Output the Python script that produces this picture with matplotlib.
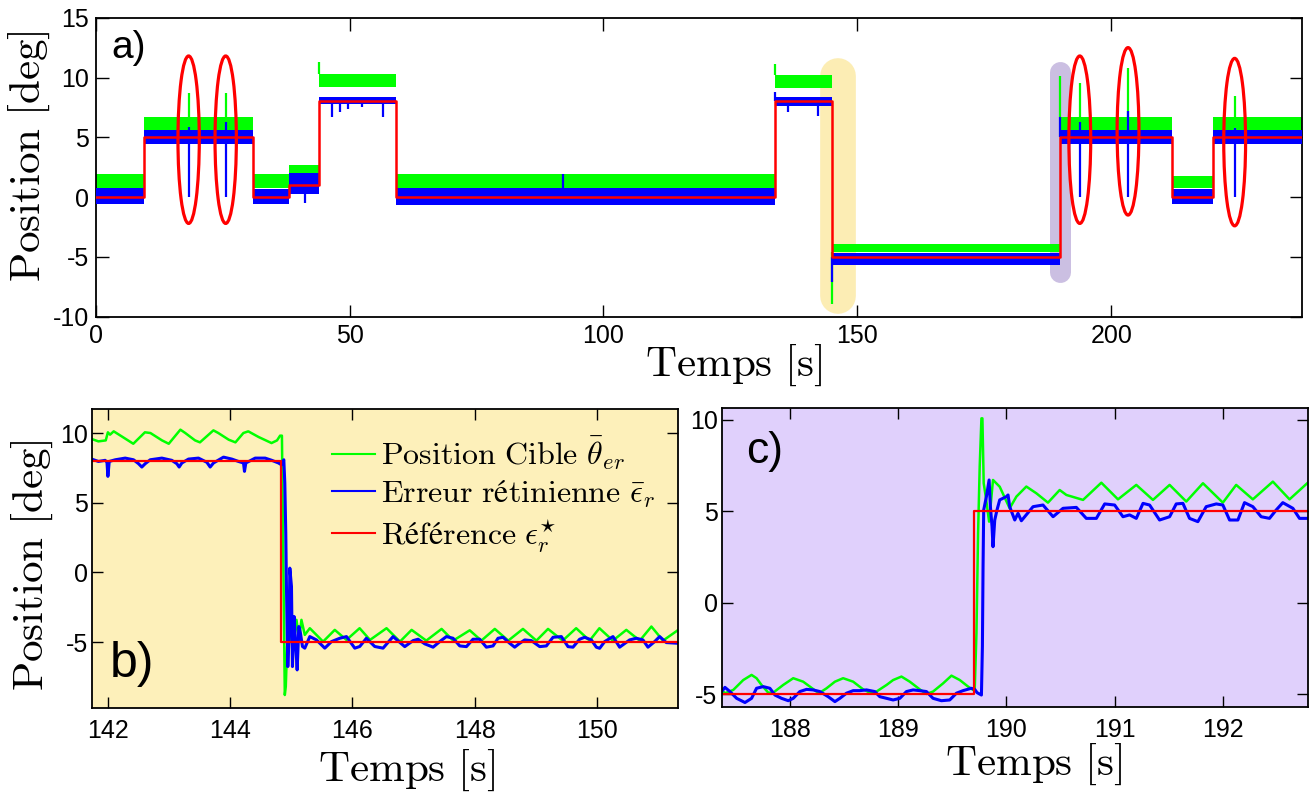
import numpy as np
import matplotlib.pyplot as plt
from matplotlib.patches import Ellipse
from matplotlib.lines import Line2D

# ---------------- a) full recording (levels read per step) ----------------
seg_t = [0, 9.5, 31.0, 38.1, 44.0, 59.2, 133.7, 145.0, 190.0, 211.9, 220.0, 237.5]
ref_lvl = [0, 5, 0, 1, 8, 0, 8, -5, 5, 0, 5]
green_lo = [0.8, 5.6, 0.8, 1.8, 9.2, 0.8, 9.1, -4.6, 5.6, 0.8, 5.6]
green_hi = [1.9, 6.7, 1.9, 2.7, 10.3, 1.9, 10.2, -3.9, 6.7, 1.8, 6.7]
blue_lo = [-0.6, 4.4, -0.6, 0.3, 7.8, -0.7, 7.6, -5.7, 4.4, -0.6, 4.4]
blue_hi = [0.8, 5.6, 0.7, 2.0, 8.4, 0.8, 8.4, -4.7, 5.6, 0.7, 5.6]

# spikes
g_spk_t = [18.3, 25.6, 44.0, 133.7, 145.0, 190.0, 193.8, 203.3, 224.3]
g_spk_from = [6.7, 6.7, 10.3, 10.2, -4.6, 6.7, 6.7, 6.7, 6.7]
g_spk_to = [8.7, 8.7, 11.3, 11.1, -8.9, 10.1, 9.5, 10.8, 8.45]
b_spk_t = [18.3, 25.6, 193.8, 203.3, 224.3, 133.7, 145.0, 190.0, 41.3,
           46.5, 48.1, 49.7, 52.4, 56.6, 136.3, 142.2, 92.0]
b_spk_lo = [0.0, 0.0, 0.0, 0.0, 0.0, 8.0, -7.1, 5.0, -0.5,
            6.7, 7.1, 7.4, 7.5, 6.7, 7.1, 6.8, 0.5]
b_spk_hi = [5.9, 6.3, 6.3, 7.2, 5.8, 8.8, -5.0, 6.7, 0.5,
            8.0, 8.0, 8.0, 8.0, 8.0, 8.0, 8.0, 1.9]

# red ellipses around the blinks
ell_t = [18.3, 25.6, 193.8, 203.3, 224.3]
ell_y = [4.8, 4.8, 4.8, 5.5, 4.6]
ell_h = [14.0, 14.0, 14.0, 14.0, 14.0]
ell_w = [4.2, 4.2, 4.3, 4.3, 4.3]

# highlighted windows (zoomed in b and c)
hl_t = [146.1, 189.9]
hl_y0 = [-8.3, -6.3]
hl_y1 = [10.1, 10.5]

# ---------------- b) zoom around 145 s ----------------
b_ref_t = [141.75, 144.84, 151.35]
b_ref_y = [8, -5, -5]
b_green_t = [141.74, 141.85, 141.97, 142.005, 142.04, 142.10, 142.23, 142.42, 142.61, 142.70,
             142.89, 143.00, 143.19, 143.27, 143.43, 143.51, 143.73, 143.81, 143.98, 144.09,
             144.22, 144.30, 144.47, 144.68, 144.77, 144.82, 144.85, 144.897, 144.913, 144.935,
             144.979, 145.033, 145.088, 145.131, 145.169, 145.224, 145.306, 145.523, 145.714, 145.905,
             146.12, 146.29, 146.56, 146.78, 146.97, 147.21, 147.46, 147.65, 147.92, 148.11,
             148.33, 148.55, 148.79, 149.01, 149.20, 149.44, 149.66, 149.88, 150.04, 150.26,
             150.48, 150.70, 150.89, 151.08, 151.32]
b_green_y = [9.57, 9.40, 9.47, 10.05, 9.88, 10.12, 9.76, 9.23, 10.05, 10.00,
             9.47, 9.23, 10.24, 10.00, 9.47, 9.33, 10.19, 10.00, 9.52, 9.33,
             10.00, 10.12, 9.71, 9.28, 9.47, 9.81, 9.81, -8.79, -8.19, -5.31,
             -4.48, -5.31, -3.40, -4.84, -3.40, -4.48, -4.00, -4.96, -4.12, -4.84,
             -4.00, -4.84, -4.00, -4.96, -4.12, -4.89, -4.05, -4.89, -4.15, -4.89,
             -4.05, -4.89, -4.05, -4.89, -4.05, -4.89, -4.00, -4.89, -4.00, -4.89,
             -4.12, -4.89, -3.88, -4.89, -4.15]
b_blue_t = [141.74, 141.85, 141.96, 141.99, 142.005, 142.027, 142.125, 142.288, 142.424, 142.506,
            142.56, 142.615, 142.697, 142.887, 143.05, 143.132, 143.17, 143.214, 143.323, 143.486,
            143.623, 143.677, 143.731, 143.895, 144.031, 144.14, 144.222, 144.238, 144.26, 144.413,
            144.576, 144.685, 144.794, 144.842, 144.881, 144.897, 144.913, 144.924, 144.946, 144.968,
            144.979, 145.006, 145.022, 145.049, 145.077, 145.099, 145.126, 145.153, 145.186, 145.224,
            145.306, 145.415, 145.551, 145.66, 145.796, 145.905, 146.041, 146.122, 146.231, 146.367,
            146.503, 146.667, 146.858, 146.994, 147.076, 147.185, 147.321, 147.43, 147.539, 147.648,
            147.757, 147.866, 147.974, 148.083, 148.192, 148.301, 148.383, 148.465, 148.574, 148.655,
            148.737, 148.819, 148.928, 149.064, 149.173, 149.282, 149.418, 149.527, 149.608, 149.717,
            149.799, 149.908, 149.99, 150.044, 150.126, 150.262, 150.371, 150.534, 150.643, 150.752,
            150.834, 150.943, 151.025, 151.134, 151.324]
b_blue_y = [8.13, 7.96, 8.04, 7.90, 6.89, 7.96, 8.08, 8.20, 8.08, 7.80,
            7.56, 7.80, 8.08, 8.20, 8.04, 7.80, 7.56, 7.85, 8.13, 8.20,
            7.90, 7.56, 7.85, 8.27, 8.13, 7.96, 7.85, 7.25, 7.85, 8.20,
            8.20, 8.04, 7.85, 7.72, 8.08, 6.41, 2.82, -1.0, -6.75, -4.36,
            0.31, -1.0, -6.75, -3.16, -5.31, -6.99, -3.88, -4.36, -5.31, -5.43,
            -4.60, -4.84, -5.43, -4.96, -4.72, -4.60, -5.43, -5.31, -4.72, -5.31,
            -5.43, -4.60, -5.32, -4.89, -4.79, -5.12, -5.36, -4.96, -4.60, -4.72,
            -5.27, -5.32, -4.79, -4.79, -5.36, -5.27, -4.72, -4.65, -5.08, -5.36,
            -5.08, -4.84, -4.89, -5.32, -5.27, -4.65, -4.60, -5.32, -5.36, -4.79,
            -4.65, -4.84, -5.36, -5.44, -4.96, -4.60, -5.36, -4.84, -4.72, -4.84,
            -5.36, -4.96, -4.60, -5.03, -5.08]

# ---------------- c) zoom around 190 s ----------------
c_ref_t = [187.37, 189.70, 192.80]
c_ref_y = [-5, 5, 5]
c_green_t = [187.369, 187.40, 187.477, 187.569, 187.646, 187.692, 187.738, 187.80, 187.846, 187.938,
             188.031, 188.123, 188.185, 188.246, 188.277, 188.339, 188.416, 188.492, 188.585, 188.677,
             188.739, 188.80, 188.893, 188.954, 189.031, 189.108, 189.20, 189.262, 189.323, 189.416,
             189.493, 189.57, 189.647, 189.693, 189.708, 189.724, 189.739, 189.754, 189.77, 189.779,
             189.791, 189.81, 189.841, 189.877, 189.939, 190.031, 190.093, 190.185, 190.278, 190.385,
             190.493, 190.555, 190.709, 190.878, 191.032, 191.201, 191.355, 191.509, 191.663, 191.817,
             192.001, 192.124, 192.278, 192.463, 192.617, 192.786]
c_green_y = [-4.76, -4.94, -4.76, -4.22, -3.94, -4.12, -4.49, -4.91, -4.91, -4.49,
             -4.12, -4.31, -4.58, -4.85, -4.91, -4.67, -4.31, -4.12, -4.31, -4.73,
             -4.91, -4.85, -4.49, -4.22, -4.03, -4.31, -4.73, -4.98, -4.85, -4.40,
             -3.98, -4.22, -4.58, -4.76, -4.76, -1.66, 3.80, 7.45, 10.09, 10.09,
             6.54, 5.80, 4.44, 6.72, 6.35, 5.17, 5.81, 6.36, 5.99, 5.48,
             6.17, 5.90, 5.63, 6.57, 5.66, 6.45, 5.63, 6.45, 5.54, 6.54,
             5.48, 6.45, 5.66, 6.63, 5.66, 6.57]
c_blue_t = [187.369, 187.40, 187.446, 187.508, 187.585, 187.646, 187.692, 187.754, 187.815, 187.862,
            187.923, 187.985, 188.031, 188.092, 188.154, 188.215, 188.277, 188.354, 188.416, 188.462,
            188.523, 188.585, 188.646, 188.708, 188.785, 188.831, 188.893, 188.954, 189.016, 189.077,
            189.139, 189.20, 189.262, 189.323, 189.40, 189.477, 189.539, 189.60, 189.677, 189.708,
            189.73, 189.77, 189.779, 189.785, 189.791, 189.816, 189.841, 189.853, 189.868, 189.877,
            189.893, 189.914, 189.939, 190.001, 190.016, 190.031, 190.078, 190.108, 190.139, 190.247,
            190.339, 190.432, 190.524, 190.647, 190.739, 190.832, 190.909, 191.001, 191.078, 191.139,
            191.201, 191.263, 191.324, 191.416, 191.509, 191.57, 191.632, 191.693, 191.77, 191.847,
            191.94, 192.001, 192.063, 192.14, 192.201, 192.278, 192.355, 192.432, 192.494, 192.555,
            192.648, 192.709, 192.786]
c_blue_y = [-4.85, -4.62, -4.85, -5.22, -5.45, -5.22, -4.67, -4.58, -4.67, -5.04,
            -5.22, -5.35, -5.22, -4.85, -4.73, -4.76, -4.85, -5.13, -5.40, -5.22,
            -4.94, -4.80, -4.80, -4.76, -4.85, -5.13, -5.22, -5.31, -5.22, -4.85,
            -4.76, -4.80, -4.85, -5.22, -5.35, -5.31, -4.94, -4.80, -4.67, -4.73,
            -4.91, -5.04, -2.39, 1.98, 5.08, 5.81, 6.72, 5.26, 4.17, 3.07,
            4.53, 5.08, 5.63, 5.81, 5.90, 5.26, 4.53, 4.90, 4.49, 5.26,
            5.35, 4.71, 5.17, 5.22, 4.62, 4.62, 5.41, 5.35, 4.71, 4.81,
            4.62, 5.44, 5.35, 4.53, 4.71, 5.41, 5.44, 4.62, 4.44, 5.26,
            5.41, 5.35, 4.53, 4.53, 5.48, 5.26, 4.71, 4.62, 5.08, 5.48,
            5.17, 4.62, 4.62]

GREEN = '#00ff00'
BLUE = '#0000ff'
RED = '#ff0000'

plt.rcParams['font.family'] = ['Liberation Sans', 'DejaVu Sans']
plt.rcParams['mathtext.fontset'] = 'cm'
plt.rcParams['axes.unicode_minus'] = False


def style_axes(ax, ticklen, pad):
    ax.tick_params(direction='in', top=True, right=True, length=ticklen,
                   width=1.0, labelsize=18, pad=pad)
    for s in ax.spines.values():
        s.set_linewidth(1.3)


fig = plt.figure(figsize=(13.11, 7.94), dpi=100)

# ---------------- a) ----------------
ax = fig.add_axes([0.073, 0.6011, 0.9199, 0.3766])
for t, y0, y1, c, w in zip(hl_t, hl_y0, hl_y1, ['#fcedb4', '#cbbfe2'], [25.7, 15.1]):
    ax.plot([t, t], [y0, y1], color=c, lw=w, solid_capstyle='round', zorder=1)
ax.fill_between(seg_t, green_lo + [green_lo[-1]], green_hi + [green_hi[-1]],
                step='post', color=GREEN, lw=0, zorder=2)
ax.vlines(g_spk_t, g_spk_from, g_spk_to, color=GREEN, lw=1.6, zorder=2)
ax.fill_between(seg_t, blue_lo + [blue_lo[-1]], blue_hi + [blue_hi[-1]],
                step='post', color=BLUE, lw=0, zorder=3)
ax.vlines(b_spk_t, b_spk_lo, b_spk_hi, color=BLUE, lw=1.6, zorder=3)
ax.step(seg_t, ref_lvl + [ref_lvl[-1]], where='post', color=RED, lw=1.8, zorder=4)
for t, y, w, h in zip(ell_t, ell_y, ell_w, ell_h):
    ax.add_patch(Ellipse((t, y), w, h, fill=False, edgecolor=RED, lw=2.3, zorder=5))
ax.set_xlim(0, 237.5)
ax.set_ylim(-10, 15)
ax.set_xticks([0, 50, 100, 150, 200])
ax.set_yticks([-10, -5, 0, 5, 10, 15])
style_axes(ax, 9, 5)
ax.set_xlabel(r'$\mathrm{Temps\ [s]}$', fontsize=31)
ax.xaxis.set_label_coords(0.529, -0.088)
ax.set_ylabel(r'$\mathrm{Position\ [deg]}$', fontsize=31)
ax.yaxis.set_label_coords(-0.036, 0.537)
ax.text(0.0276, 0.90, 'a)', transform=ax.transAxes, fontsize=28,
        ha='center', va='center')

# ---------------- b) ----------------
axb = fig.add_axes([0.0704, 0.1087, 0.447, 0.3758])
axb.set_facecolor('#fdf0ba')
axb.plot(b_green_t, b_green_y, color=GREEN, lw=1.8)
axb.plot(b_blue_t, b_blue_y, color=BLUE, lw=2.2)
axb.step(b_ref_t, b_ref_y, where='post', color=RED, lw=1.6)
axb.set_xlim(141.75, 151.33)
axb.set_ylim(-9.7, 11.7)
axb.set_xticks([142, 144, 146, 148, 150])
axb.set_yticks([-5, 0, 5, 10])
style_axes(axb, 8, 8)
axb.tick_params(axis='y', pad=3)
axb.set_xlabel(r'$\mathrm{Temps\ [s]}$', fontsize=31)
axb.xaxis.set_label_coords(0.537, -0.135)
axb.set_ylabel(r'$\mathrm{Position\ [deg]}$', fontsize=31)
axb.yaxis.set_label_coords(-0.064, 0.478)
axb.text(0.067, 0.148, 'b)', transform=axb.transAxes, fontsize=36,
         ha='center', va='center')
handles = [Line2D([], [], color=GREEN, lw=1.5),
           Line2D([], [], color=BLUE, lw=1.5),
           Line2D([], [], color=RED, lw=1.5)]
labels = [r'$\mathrm{Position\ Cible}\ \bar{\theta}_{er}$',
          r'$\mathrm{Erreur\ rétinienne}\ \bar{\epsilon}_r$',
          r'$\mathrm{Référence}\ \epsilon_r^{\star}$']
axb.legend(handles, labels, loc='upper left', bbox_to_anchor=(0.409, 0.915),
           frameon=False, fontsize=23, handlelength=1.35, handletextpad=0.2,
           borderpad=0, borderaxespad=0, labelspacing=0.2)

# ---------------- c) ----------------
axc = fig.add_axes([0.5505, 0.1099, 0.4474, 0.3759])
axc.set_facecolor('#e0d0fc')
axc.plot(c_green_t, c_green_y, color=GREEN, lw=1.8)
axc.plot(c_blue_t, c_blue_y, color=BLUE, lw=2.2)
axc.step(c_ref_t, c_ref_y, where='post', color=RED, lw=1.6)
axc.set_xlim(187.37, 192.79)
axc.set_ylim(-5.68, 10.64)
axc.set_xticks([188, 189, 190, 191, 192])
axc.set_yticks([-5, 0, 5, 10])
style_axes(axc, 8, 8)
axc.tick_params(axis='y', pad=3)
axc.set_xlabel(r'$\mathrm{Temps\ [s]}$', fontsize=31)
axc.xaxis.set_label_coords(0.5315, -0.118)
axc.text(0.0738, 0.855, 'c)', transform=axc.transAxes, fontsize=32,
         ha='center', va='center')

fig.savefig('out.png', dpi=100)
